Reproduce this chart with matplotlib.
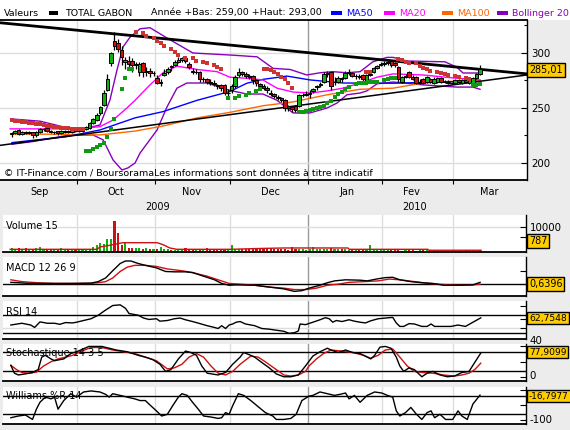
import matplotlib
matplotlib.use("Agg")
import matplotlib.pyplot as plt
from matplotlib.patches import Rectangle
from matplotlib.transforms import blended_transform_factory

plt.rcParams["font.family"] = ["DejaVu Sans"]

W, H = 570, 430
PXD = 3.549      # pixels per trading day
DAY0 = -0.26     # trading-day index at the left edge of the chart

# ---------------- price data (trading-day index 3 .. 135, Sep 2009 -> Mar 2010)
first_day = 3
opens = [226, 227, 230, 226, 228, 227, 228, 225, 228, 231, 232, 229, 228, 229, 227, 228, 229, 228, 230,  # Sep
         229, 229, 231, 232, 236, 239, 245, 253, 266, 291, 311, 309, 303, 292, 293, 293, 289, 283, 291, 283, 284, 282,  # Oct
         277, 273, 280, 283, 288, 289, 292, 294, 295, 290, 284, 283, 283, 276, 276, 274, 273, 271, 271, 271, 264,  # Nov
         266, 270, 280, 283, 281, 279, 279, 275, 272, 270, 268, 264, 263, 260, 259, 257, 252, 251, 252, 252, 262, 262,  # Dec
         263, 265, 269, 271, 274, 281, 283, 274, 274, 277, 277, 282, 282, 279, 279, 280, 274, 280, 283, 286, 289,  # Jan
         290, 291, 293, 291, 287, 274, 278, 283, 278, 278, 273, 276, 274, 276, 273, 274, 277, 274, 274, 273,  # Feb
         273, 275, 273, 275, 273, 273, 277, 281]  # Mar
highs = [228, 230, 231, 229, 229, 229, 228, 229, 232, 232, 232, 230, 229, 229, 230, 230, 230, 231, 231,
         231, 232, 234, 237, 241, 245, 252, 266, 281, 301, 319, 313, 306, 296, 297, 295, 292, 292, 292, 287, 286, 284,
         280, 276, 285, 287, 289, 294, 296, 296, 296, 292, 286, 285, 284, 278, 277, 276, 275, 272, 272, 272, 267,
         272, 280, 286, 284, 283, 281, 280, 276, 273, 272, 270, 266, 264, 262, 260, 258, 253, 252, 253, 263, 264, 265,
         266, 268, 271, 274, 283, 284, 284, 278, 279, 278, 284, 285, 283, 281, 281, 281, 281, 283, 287, 289, 292,
         293, 293, 293, 292, 288, 279, 281, 284, 280, 279, 276, 277, 279, 277, 278, 278, 278, 275, 275, 274,
         276, 276, 276, 276, 276, 278, 282, 289]
lows = [224, 226, 225, 225, 226, 226, 223, 224, 227, 229, 228, 227, 226, 225, 226, 227, 227, 227, 228,
        228, 228, 230, 231, 235, 238, 244, 252, 265, 288, 303, 301, 289, 285, 287, 283, 285, 279, 278, 279, 278, 279,
        272, 270, 279, 281, 284, 288, 291, 292, 291, 285, 281, 281, 274, 274, 272, 271, 270, 267, 265, 262, 260,
        264, 268, 278, 279, 277, 276, 272, 270, 267, 266, 264, 261, 259, 257, 255, 247, 247, 246, 246, 251, 260, 261,
        259, 264, 266, 269, 273, 278, 266, 271, 273, 274, 276, 280, 278, 276, 276, 274, 273, 279, 282, 285, 288,
        288, 289, 287, 287, 274, 273, 277, 277, 275, 272, 272, 272, 273, 273, 272, 273, 273, 273, 272, 272,
        272, 273, 272, 273, 272, 272, 276, 280]
closes = [227, 229, 226, 228, 227, 228, 225, 228, 231, 231, 229, 228, 228, 227, 229, 229, 228, 230, 229,
          230, 231, 233, 236, 240, 244, 251, 264, 276, 300, 306, 304, 296, 294, 290, 289, 290, 290, 283, 284, 282, 282,
          273, 274, 282, 285, 287, 292, 294, 295, 293, 287, 283, 283, 276, 276, 274, 273, 272, 270, 268, 264, 264,
          270, 278, 283, 281, 279, 278, 275, 273, 270, 268, 266, 263, 261, 259, 257, 250, 250, 249, 248, 262, 262, 263,
          264, 267, 270, 272, 281, 282, 270, 274, 277, 276, 282, 283, 279, 279, 278, 276, 280, 281, 286, 288, 290,
          291, 292, 289, 289, 276, 278, 279, 278, 276, 273, 274, 273, 278, 274, 276, 277, 274, 274, 273, 273,
          275, 274, 275, 274, 275, 277, 281, 285]
volumes = [1600, 1100, 1600, 1100, 1600, 1100, 1100, 1600, 2000, 1100, 1100, 1100, 1100, 1100, 1600, 1100, 1100, 1100, 1100,
           1100, 1100, 1100, 1300, 2000, 2700, 3700, 3300, 5300, 5300, 12400, 7700, 2700, 4000, 1600, 1600, 1600, 1600, 1300, 1600, 1300, 1300,
           1100, 2000, 1300, 1100, 700, 700, 1100, 1100, 1600, 1100, 1100, 1100, 1100, 1100, 1600, 1100, 1100, 1100, 1100, 1100, 1100,
           2900, 1300, 1100, 1100, 1100, 1100, 1100, 1100, 1100, 1100, 1600, 1600, 1100, 1300, 1100, 1300, 800, 2000, 1100, 1300, 1300, 700,
           1100, 2000, 1100, 1100, 1100, 1100, 1600, 1100, 1300, 1100, 1100, 800, 800, 800, 1100, 800, 800, 2700, 800, 800, 800,
           800, 1100, 800, 800, 800, 500, 800, 800, 800, 500, 800, 800, 800, 800, 800, 500, 500, 500, 500, 500,
           500, 500, 500, 800, 800, 800, 500, 800]
days = list(range(first_day, first_day + len(closes)))

# ---------------- overlays on the price chart (day index, value)
ma50_d = [3.1, 18.6, 27.9, 37.8, 45.7, 55.3, 64.5, 69.3, 73.8, 80.6, 87.1, 96.4, 110.5, 128.5, 135]
ma50_v = [218.5, 224, 230, 241, 246.7, 257, 265, 272.5, 276, 279, 275.5, 272.7, 272.5, 274, 274]
ma20_d = [2.6, 21.4, 27.9, 31.6, 35.5, 37.8, 42.0, 45.7, 49.6, 55.3, 60.9, 64.5, 69.3, 73.8, 77.8, 82.3,
          87.1, 91.9, 96.4, 101.2, 106.0, 110.5, 118.9, 128.5, 135]
ma20_v = [231, 231, 233, 239, 250, 257, 271, 282, 288, 285, 283, 278, 277, 275.5, 268, 264.5,
          263.6, 265.5, 268, 272.7, 278, 281, 280, 277, 275.5]
ma100_d = [3.1, 18.6, 27.9, 37.8, 45.7, 55.3, 64.5, 73.8, 82.3, 91.9, 101.2, 110.5, 118.9, 128.5, 135]
ma100_v = [226.4, 226, 225.5, 229, 233.6, 241, 246, 252, 255.5, 262, 267, 268, 272.7, 274.5, 275]
boll_up_d = [3.1, 11.0, 18.6, 23.1, 27.9, 30.7, 32.7, 34.4, 36.4, 39.2, 42.0, 46.8, 54.1, 65.4, 72.2, 76.7,
             81.5, 86.2, 89.9, 93.6, 97.5, 101.2, 104.8, 108.8, 110.5, 114.4, 125.1, 128.5, 130.2, 135]
boll_up_v = [240, 238, 232, 231, 234.5, 257, 284.5, 305.5, 314.5, 322, 323, 313.6, 300, 298, 296.5, 286,
             285, 280, 282, 283, 282, 283, 292, 296, 296, 292.7, 292, 287, 281.8, 281.8]
boll_lo_d = [3.1, 9.0, 18.6, 25.9, 28.8, 31.6, 34.1, 35.8, 37.8, 39.2, 44.0, 46.8, 49.6, 52.4, 58.1, 64.5,
             69.3, 73.8, 77.8, 82.3, 87.1, 91.9, 94.7, 97.5, 101.2, 103.1, 106.0, 110.5, 118.9, 128.5, 133.0, 135]
boll_lo_v = [217, 219.5, 225, 225.5, 221, 202.7, 193.6, 195.5, 200, 209, 230, 251, 268, 272.7, 272.7, 266,
             262.7, 262.7, 257, 245.5, 245.5, 250, 254.5, 262, 263.6, 265.5, 272, 273.6, 271, 269, 269, 267]
sar_red_d = [3, 4, 5, 6, 7, 8, 9, 10, 11, 12, 13, 14, 15, 16, 17, 18, 19, 20, 21, 22, 23,
             38, 40, 41, 43, 44, 45, 46, 48, 49, 50, 52, 54, 55, 57, 58, 60, 61, 62,
             74, 75, 76, 77, 78, 79, 80, 81, 82, 103, 104,
             112, 113, 114, 115, 117, 118, 119, 120, 121, 123, 124, 125, 126, 128, 129, 131, 132]
sar_red_v = [239, 238.5, 238, 237.5, 237, 236.5, 236, 235.5, 235, 234.5, 234, 233.5, 233, 232.5, 232, 231.8, 231.5, 231.2, 231, 231, 231,
             318.8, 317.9, 315.5, 313.3, 311.2, 308.8, 306.4, 303.4, 301.2, 298.2, 295.8, 295.1, 292.7, 292, 290.6, 289, 287, 285,
             285, 285, 284.5, 283, 281, 278.5, 276, 273, 268, 283, 283,
             294.3, 293.6, 292, 291.2, 290.6, 288, 286.7, 285.2, 284, 282.4, 281.5, 281, 280, 279, 277.9, 277, 276.4]
sar_grn_d = [24, 25, 26, 27, 28, 29, 30, 31, 32, 34, 35, 36, 37,
             64, 66, 67, 69, 70, 72, 73,
             84, 85, 86, 87, 88, 89, 90, 91, 92, 93, 94, 95, 96, 97, 98, 100, 101, 102, 103, 104, 105, 106, 108, 109, 110, 111,
             133, 134, 135]
sar_grn_v = [211, 211, 212.7, 214.5, 216, 218, 224, 231, 240, 267, 277, 285.5, 285.5,
             259, 259.5, 260.5, 261.5, 264, 265.7, 267,
             246.5, 246.5, 247.5, 248, 248.8, 249.7, 250.6, 252, 254.3, 256.4, 259.7, 262.7, 264.8, 267, 268.8, 271.8, 272.4,
             272.4, 273, 274, 274, 274, 275.5, 276.4, 277, 277,
             271, 271, 271.8]
trend_d = [-0.26, 148.2]
trend_top = [327.5, 281]
trend_low = [216, 280]

# ---------------- indicators
vol_ma_d = [2.6, 27.1, 27.9, 30.7, 32.1, 34.4, 44.0, 45.7, 47.6, 49.6, 64.5, 73.0, 80.0, 97.8, 98.1, 120.3, 120.6, 135.3]
vol_ma_v = [1070, 1070, 2000, 2670, 3070, 3700, 3700, 2900, 1600, 1070, 1070, 1400, 1600, 1600, 1070, 1070, 700, 700]

macd_d = [2.8, 4.9, 7.9, 15.1, 20.2, 25.4, 27.4, 29.5, 31.5, 33.6, 35.1, 36.6, 38.7, 40.7, 43.8, 46.4, 48.9, 52.0,
          54.0, 57.1, 60.2, 62.2, 64.3, 66.3, 71.5, 75.6, 79.7, 82.7, 84.8, 86.8, 89.9, 92.0, 94.0, 97.1, 101.2,
          103.2, 106.3, 108.3, 110.4, 112.4, 115.5, 118.6, 121.7, 124.7, 128.8, 133.0, 135]
macd_v = [0.64, 0.51, 0.24, 0.24, 0.24, 0.37, 0.91, 2.25, 4.92, 7.6, 8.53, 8.53, 7.6, 6.92, 5.99, 4.65, 4.52, 4.52,
          4.25, 2.91, 1.58, 0.24, -0.43, -0.29, -0.43, -1.1, -1.77, -2.7, -2.43, -1.5, -0.43, 0.51, 1.18, 1.58, 1.44,
          1.18, 1.98, 2.38, 2.51, 1.58, 0.91, 0.51, 0.24, -0.43, -0.43, -0.29, 0.64]
signal_d = [2.8, 5.9, 10.0, 15.1, 25.4, 27.4, 29.5, 31.5, 33.6, 35.6, 37.7, 40.7, 43.8, 46.9, 51.0, 54.0, 58.1, 61.2,
            64.3, 67.4, 71.5, 75.6, 79.7, 82.7, 85.8, 88.9, 92.0, 95.0, 98.1, 102.2, 106.3, 109.4, 112.4, 116.5,
            120.6, 124.7, 128.8, 133.0, 135]
signal_v = [1.58, 0.91, 0.51, 0.24, 0.24, 0.51, 0.91, 2.25, 4.65, 6.26, 6.92, 6.92, 6.52, 5.59, 4.92, 4.25, 2.91, 1.58,
            0.24, -0.03, -0.43, -1.1, -1.5, -2.03, -2.03, -1.5, -0.43, -0.03, 0.64, 0.91, 1.18, 1.85, 1.58, 0.91,
            0.24, -0.16, -0.43, -0.29, -0.03]

rsi_d = [2.8, 5.9, 8.4, 9.5, 11.0, 13.1, 15.1, 16.6, 18.2, 20.2, 21.3, 23.3, 25.4, 27.4, 29.5, 31.5, 33.6, 35.1,
         36.1, 37.7, 38.7, 40.2, 41.7, 43.8, 44.8, 46.9, 48.9, 50.5, 52.0, 54.0, 56.1, 58.1, 60.2, 61.2, 62.2, 63.3,
         64.3, 65.3, 66.3, 67.4, 68.9, 71.5, 73.5, 75.6, 77.6, 79.7, 81.2, 82.7, 83.8, 84.3, 85.8, 87.9, 89.9, 91.4,
         92.5, 93.5, 94.5, 96.1, 98.1, 99.6, 101.2, 102.7, 104.2, 106.3, 108.3, 110.4, 111.4, 112.4, 113.5, 115.0,
         116.5, 118.6, 120.1, 121.2, 122.2, 124.2, 126.8, 128.8, 130.9, 133.0, 135.2]
rsi_v = [46.9, 50.8, 46.9, 41.5, 53.8, 50.8, 50.8, 48.5, 52.3, 51.5, 53.1, 56.9, 60.8, 68.5, 80, 90, 91.5, 83.8,
         72.3, 70, 68.5, 62.3, 59.2, 60.8, 55.4, 56.9, 60.8, 62.3, 58.5, 54.6, 50, 45.4, 41.5, 39.2, 45.4, 39.2,
         46.9, 49.2, 53.1, 54.6, 49.2, 45.4, 39.2, 37.7, 35.4, 33.1, 28.5, 30, 33.8, 49.2, 47.7, 53.1, 58.5, 63.1,
         60.8, 53.1, 56.9, 54.6, 58.5, 55.4, 53.1, 51.5, 56.2, 60.8, 62.3, 63.8, 51.5, 43.8, 43.8, 50,
         49.2, 43.8, 43.8, 49.2, 43.8, 43.8, 43.8, 46.9, 43.8, 53.1, 62.75]

stk_d = [2.8, 3.8, 4.9, 6.9, 8.9, 10.5, 11.5, 12.5, 14.1, 15.1, 16.1, 17.7, 19.7, 21.8, 24.8, 28.4, 30.5, 32.5,
         35.6, 38.7, 40.7, 42.8, 44.8, 46.4, 47.9, 50.0, 52.0, 53.5, 55.1, 56.6, 58.1, 61.2, 63.3, 65.3, 67.4, 68.4,
         70.4, 71.5, 73.5, 75.6, 77.6, 79.7, 81.7, 83.8, 85.8, 87.9, 89.9, 92.0, 93.0, 95.0, 97.1, 99.1, 101.2,
         103.2, 104.2, 105.3, 106.8, 108.3, 109.9, 111.4, 112.4, 113.5, 115.0, 116.5, 118.6, 120.1, 121.7, 123.7,
         125.8, 127.8, 129.9, 131.9, 133.5, 135.2]
stk_v = [37.6, 11.8, 5.9, 9.4, 14.1, 23.5, 64.7, 70.6, 58.8, 52.9, 55.3, 58.8, 76.5, 84.7, 100, 100, 94.1, 88.2,
         82.4, 70.6, 64.7, 56.5, 41.2, 17.6, 23.5, 58.8, 84.7, 80, 70.6, 35.3, 11.8, 5.9, 14.1, 41.2, 64.7, 80,
         70.6, 64.7, 47.1, 29.4, 9.4, 0, 0, 5.9, 35.3, 68.2, 82.4, 94.1, 88.2, 80, 88.2, 80, 76.5,
         64.7, 58.8, 70.6, 97.6, 100, 94.1, 64.7, 35.3, 17.6, 29.4, 23.5, 0, 11.8, 17.6, 5.9,
         0, 2.4, 14.1, 17.6, 47.1, 77.9]
std_d = [2.8, 4.4, 5.9, 7.9, 10.0, 12.0, 14.1, 16.1, 18.2, 20.2, 22.3, 25.4, 28.4, 31.5, 34.6, 37.7, 40.7, 43.8,
         46.9, 48.9, 51.0, 53.0, 55.1, 57.1, 59.2, 61.2, 63.3, 65.3, 67.4, 70.4, 72.5, 74.5, 77.6, 79.7, 81.7, 83.8,
         85.8, 86.8, 88.9, 90.9, 93.0, 96.1, 99.1, 102.2, 104.2, 106.3, 108.3, 110.4, 112.4, 114.5, 116.5, 118.6,
         121.7, 124.7, 127.8, 129.9, 131.9, 133.5, 135.2]
std_v = [37.6, 23.5, 14.1, 11.8, 15.3, 35.3, 49.4, 58.8, 64.7, 70.6, 82.4, 96.5, 96.5, 88.2, 82.4, 76.5, 64.7, 52.9,
         25.9, 29.4, 41.2, 64.7, 76.5, 64.7, 35.3, 11.8, 5.9, 17.6, 41.2, 68.2, 64.7, 49.4, 23.5, 5.9, 2.4, 5.9,
         17.6, 35.3, 58.8, 76.5, 88.2, 84.7, 80, 70.6, 61.2, 70.6, 88.2, 91.8, 64.7, 35.3, 17.6, 14.1,
         11.8, 5.9, 2.4, 5.9, 11.8, 23.5, 44.7]

wil_d = [2.8, 4.9, 6.9, 8.9, 10.0, 11.0, 12.5, 14.1, 15.1, 16.1, 17.7, 19.7, 21.3, 23.3, 25.4, 27.9, 29.5, 30.5,
         31.5, 33.6, 35.6, 37.7, 39.2, 40.7, 41.7, 43.8, 45.3, 46.9, 48.4, 50.0, 51.0, 52.5, 54.0, 55.6, 57.1, 59.2,
         61.2, 62.2, 63.3, 64.3, 65.3, 66.9, 68.4, 70.4, 72.5, 74.5, 76.6, 77.6, 79.7, 81.7, 83.2, 84.8, 86.8, 87.9,
         89.9, 92.0, 94.0, 95.5, 97.1, 98.1, 99.6, 101.2, 103.2, 105.3, 107.3, 108.9, 110.4, 111.4, 112.4, 114.0,
         115.5, 117.1, 118.6, 120.1, 121.2, 122.2, 123.7, 125.3, 127.3, 128.8, 129.9, 131.4, 133.0, 135.0]
wil_v = [-91.3, -85.7, -82.3, -97, -63, -40.4, -23.4, -29.1, -23.4, -63, -34.7, -12.1, -23.4, -6.4, -3, -6.4, -14.3, -23.4,
         -12.1, -17.7, -23.4, -29.1, -34.7, -34.7, -46, -68.7, -85.7, -80, -51.7, -23.4, -12.1, -17.7, -40.4, -63, -85.7, -89,
         -93.6, -91.3, -74.3, -80, -51.7, -12.1, -17.7, -34.7, -55.1, -74.3, -85.7, -97, -97, -93.6, -80, -34.7, -20, -17.7,
         -6.4, -12.1, -17.7, -14.3, -9.8, -29.1, -17.7, -40.4, -17.7, -6.4, -9.8, -17.7, -23.4, -68.7, -85.7, -74.3,
         -57.4, -80, -97, -74.3, -68.7, -91.3, -80, -97, -97, -68.7, -85.7, -97, -46, -16.8]

# calendar: trading-day index of month boundaries and label positions
month_edges = [21.5, 43.5, 64.5, 86.5, 107.5, 127.5]
year_edge = 86.5
month_names = ["Sep", "Oct", "Nov", "Dec", "Jan", "Fev", "Mar"]
month_mid = [11.0, 32.5, 53.8, 76.0, 97.5, 115.8, 137.5]
year_names = ["2009", "2010"]
year_pos = [44.2, 116.6]

GRID = "#dddddd"
UP, DOWN = "#11b011", "#cc1111"
FS = 6.8

fig = plt.figure(figsize=(W / 100, H / 100), dpi=100)
fig.patch.set_facecolor("#ececec")
fig.add_artist(Rectangle((0, 1 - 20 / H), 1, 20 / H, transform=fig.transFigure,
                         facecolor="white", edgecolor="none", zorder=0))


def ftext(x, y, s, **kw):
    kw.setdefault("fontsize", FS)
    kw.setdefault("va", "center")
    return fig.text(x / W, 1 - y / H, s, **kw)


def frect(x, y, w, h, color):
    fig.add_artist(Rectangle((x / W, 1 - (y + h) / H), w / W, h / H, transform=fig.transFigure,
                             facecolor=color, edgecolor="none"))


def value_box(y, s, size=6.9):
    ftext(529, y, s, fontsize=size, ha="left",
          bbox=dict(boxstyle="square,pad=0.2", fc="#ffcc00", ec="black", lw=1))


def panel(x0, y0, x1, y1, ylim):
    ax = fig.add_axes([x0 / W, 1 - y1 / H, (x1 - x0) / W, (y1 - y0) / H])
    ax.set_xlim(DAY0 + x0 / PXD, DAY0 + x1 / PXD)
    ax.set_ylim(*ylim)
    ax.set_facecolor("white")
    for s in ("left", "top"):
        ax.spines[s].set_visible(False)
    ax.spines["bottom"].set_linewidth(1.3)
    ax.spines["right"].set_linewidth(1.0)
    ax.set_xticks([])
    ax.yaxis.tick_right()
    ax.tick_params(axis="y", direction="in", length=4, width=0.8, labelsize=7.4, pad=3)
    for e in month_edges:
        ax.axvline(e, color="#999999" if e == year_edge else GRID, lw=1, zorder=0)
    return ax


# ---------------- legend band
ftext(4, 13, "Valeurs", ha="left")
frect(49, 11, 9, 4, "black")
ftext(65, 13, "TOTAL GABON", ha="left")
ftext(151, 13, "Année +Bas: 259,00 +Haut: 293,00", ha="left")
for x, lab, col in [(331, "MA50", "#0000ff"), (384, "MA20", "#ff00ff"),
                    (442, "MA100", "#ff6600"), (497, "Bollinger 20", "#8800bb")]:
    frect(x, 11, 11, 4, col)
    ftext(x + 15, 13, lab, ha="left", color=col)

# ---------------- main price panel
ax = panel(0, 20, 527, 180, (184.5, 330))
ax.spines["top"].set_visible(True)
ax.spines["top"].set_linewidth(1.3)
for v in (200, 250, 300):
    ax.axhline(v, color=GRID, lw=1, zorder=0)
ax.set_yticks([200, 250, 300])
ax.set_yticks([225, 275, 325], minor=True)
ax.tick_params(axis="y", which="minor", direction="in", length=2.5, width=0.8)
ax.set_xticks(month_edges)
ax.tick_params(axis="x", direction="out", length=3, labelbottom=False)

ax.plot(boll_up_d, boll_up_v, color="#8800bb", lw=1, zorder=2)
ax.plot(boll_lo_d, boll_lo_v, color="#8800bb", lw=1, zorder=2)
ax.plot(ma100_d, ma100_v, color="#ff6600", lw=1, zorder=2)
ax.plot(ma50_d, ma50_v, color="#0000ff", lw=1, zorder=2)
ax.plot(ma20_d, ma20_v, color="#ff00ff", lw=1, zorder=2)
ax.plot(trend_d, trend_top, color="black", lw=2.0, zorder=3)
ax.plot(trend_d, trend_low, color="black", lw=1.1, zorder=3)

colors = [UP if c >= o else DOWN for o, c in zip(opens, closes)]
ax.vlines(days, lows, highs, color="black", lw=0.9, zorder=4)
ax.bar(days, [abs(c - o) for o, c in zip(opens, closes)], bottom=[min(o, c) for o, c in zip(opens, closes)],
       width=1.0, color=colors, edgecolor="black", lw=0.7, zorder=5)
ax.scatter(sar_red_d, sar_red_v, marker="s", s=7, color="#cc3333", lw=0, zorder=6)
ax.scatter(sar_grn_d, sar_grn_v, marker="s", s=7, color="#119911", lw=0, zorder=6)
ax.text(0.008, 0.04, "© IT-Finance.com / BoursoramaLes informations sont données à titre indicatif",
        transform=ax.transAxes, fontsize=FS, ha="left", va="center")
value_box(70, "285,01")

# month / year labels under the price panel
tr = blended_transform_factory(ax.transData, fig.transFigure)
for m, name in zip(month_mid, month_names):
    ax.text(m, 1 - 192 / H, name, transform=tr, fontsize=7, ha="center", va="center", clip_on=False)
for p, name in zip(year_pos, year_names):
    ax.text(p, 1 - 207 / H, name, transform=tr, fontsize=7, ha="center", va="center", clip_on=False)

# ---------------- volume
av = panel(3, 215, 526, 252, (0, 14700))
av.axhline(10000, color=GRID, lw=1, zorder=0)
av.bar(days, volumes, width=0.6, color=colors, lw=0, zorder=2)
av.plot(vol_ma_d, vol_ma_v, color="#cc1111", lw=1, zorder=3)
av.set_yticks([10000, 5800])
av.set_yticklabels(["10000", ""])
av.text(0.005, 0.7, "Volume 15", transform=av.transAxes, fontsize=7, va="center")
value_box(241, "787")

# ---------------- MACD
am = panel(3, 257, 526, 296, (-4.4, 10))
am.axhline(0, color="black", lw=1, zorder=1)
am.plot(signal_d, signal_v, color="#cc1111", lw=1, zorder=2)
am.plot(macd_d, macd_v, color="black", lw=1, zorder=3)
am.set_yticks([5])
am.set_yticklabels([""])
am.text(0.005, 0.72, "MACD 12 26 9", transform=am.transAxes, fontsize=7, va="center")
value_box(284, "0,6396")

# ---------------- RSI
ar = panel(3, 301, 526, 339, (16, 100))
ar.axhline(70, color="black", lw=1, zorder=1)
ar.axhline(30, color="black", lw=1, zorder=1)
ar.axhline(40, color=GRID, lw=1, zorder=0)
ar.plot(rsi_d, rsi_v, color="black", lw=1, zorder=2)
ar.set_yticks([90, 60, 40])
ar.set_yticklabels(["", "", ""])
ar.text(0.005, 0.7, "RSI 14", transform=ar.transAxes, fontsize=7, va="center")
ftext(529, 341, "40", fontsize=7.4, ha="left")
value_box(318, "62,7548", 6.6)

# ---------------- Stochastic
ast = panel(3, 344, 526, 381, (-14, 108))
ast.axhline(80, color="black", lw=1, zorder=1)
ast.axhline(20, color="black", lw=1, zorder=1)
ast.plot(std_d, std_v, color="#cc1111", lw=1, zorder=2)
ast.plot(stk_d, stk_v, color="black", lw=1, zorder=3)
ast.set_yticks([100, 50, 0])
ast.set_yticklabels(["", "", ""])
ast.text(0.005, 0.75, "Stochastique 14 3 5", transform=ast.transAxes, fontsize=7, va="center")
ftext(529, 376, "0", fontsize=7.4, ha="left")
value_box(352, "77,9099", 6.6)

# ---------------- Williams %R
aw = panel(3, 387, 526, 424, (-112, 10))
aw.axhline(-20, color="black", lw=1, zorder=1)
aw.axhline(-80, color="black", lw=1, zorder=1)
aw.plot(wil_d, wil_v, color="black", lw=1, zorder=2)
aw.set_yticks([0, -50, -100])
aw.set_yticklabels(["", "", ""])
aw.text(0.005, 0.75, "Williams %R 14", transform=aw.transAxes, fontsize=7, va="center")
ftext(529, 420, "-100", fontsize=7.4, ha="left")
value_box(396, "-16,7977", 6.4)

fig.savefig("out.png", dpi=100, facecolor=fig.get_facecolor())
